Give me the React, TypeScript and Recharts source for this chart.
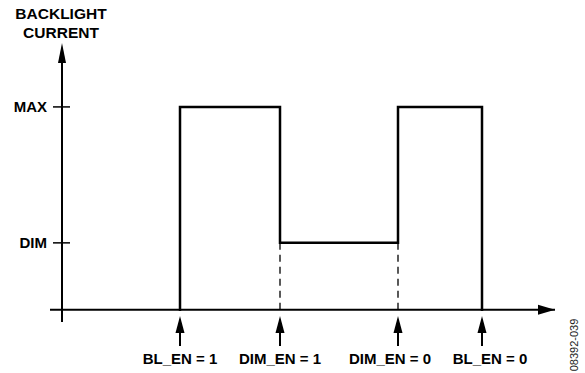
import {
  LineChart,
  Line,
  XAxis,
  YAxis,
  ReferenceLine,
  ReferenceDot,
} from "recharts";

// time units are arbitrary, current levels in % of MAX
const edgeTimes = [130, 230, 348, 432];
const levelsAfterEdge = [100, 33, 100, 0];
const edgeLabels = ["BL_EN = 1", "DIM_EN = 1", "DIM_EN = 0", "BL_EN = 0"];
const levelTicks = [33, 100];
const levelLabels = ["DIM", "MAX"];
const dashedEdges = [230, 348];

const X_DOMAIN: [number, number] = [0, 505];
const Y_DOMAIN: [number, number] = [-6, 131.5];
const Y_AXIS_AT = 12;

// the last two labels are nudged apart so they don't collide
const LABEL_NUDGE = [0, 0, -8, 8];

const FONT = "'Liberation Sans', Arial, sans-serif";

// build the step corners from the edges
const wave: { t: number; i: number }[] = [];
let prev = 0;
edgeTimes.forEach((t, k) => {
  wave.push({ t, i: prev });
  wave.push({ t, i: levelsAfterEdge[k] });
  prev = levelsAfterEdge[k];
});

const EdgeTick = (props: any) => {
  const { x, y, index } = props;
  return (
    <g>
      <line x1={x} x2={x} y1={y + 8} y2={y + 24} stroke="#000" strokeWidth={2} />
      <path d={`M${x},${y - 6} L${x - 4.5},${y + 11} L${x + 4.5},${y + 11} Z`} fill="#000" />
      <text
        x={x + LABEL_NUDGE[index]}
        y={y + 42}
        textAnchor="middle"
        fontFamily={FONT}
        fontWeight="bold"
        fontSize={15}
        fill="#000"
      >
        {edgeLabels[index]}
      </text>
    </g>
  );
};

const UpArrow = (props: any) => {
  const { cx, cy } = props;
  return <path d={`M${cx},${cy} L${cx - 4},${cy + 20} L${cx + 4},${cy + 20} Z`} fill="#000" />;
};

const RightArrow = (props: any) => {
  const { cx, cy } = props;
  return <path d={`M${cx},${cy} L${cx - 17},${cy - 5} L${cx - 17},${cy + 5} Z`} fill="#000" />;
};

export default function App() {
  return (
    <div style={{ position: "absolute", left: 0, top: 0, width: 585, height: 373, background: "#fff" }}>
      <div
        style={{
          position: "absolute",
          left: 11,
          top: 4,
          width: 100,
          textAlign: "center",
          fontFamily: FONT,
          fontWeight: "bold",
          fontSize: 15.5,
          lineHeight: "19px",
        }}
      >
        BACKLIGHT
        <br />
        CURRENT
      </div>
      <div
        style={{
          position: "absolute",
          left: 574,
          top: 345,
          transform: "translate(-50%, -50%) rotate(-90deg)",
          fontFamily: FONT,
          fontSize: 11,
          color: "#222",
          whiteSpace: "nowrap",
        }}
      >
        08392-039
      </div>
      <LineChart
        width={585}
        height={373}
        data={wave}
        margin={{ top: 43, right: 30, bottom: 0, left: 0 }}
      >
        <XAxis
          dataKey="t"
          type="number"
          domain={X_DOMAIN}
          ticks={edgeTimes}
          axisLine={false}
          tickLine={false}
          tickSize={0}
          tickMargin={0}
          height={51}
          tick={<EdgeTick />}
          interval={0}
        />
        <YAxis
          type="number"
          domain={Y_DOMAIN}
          ticks={levelTicks}
          tickFormatter={(v) => levelLabels[levelTicks.indexOf(v)]}
          axisLine={false}
          tickLine={false}
          tickSize={0}
          tickMargin={3}
          width={50}
          tick={{ fill: "#000", fontFamily: FONT, fontWeight: "bold", fontSize: 15 }}
        />
        <ReferenceLine y={0} stroke="#000" strokeWidth={2} />
        <ReferenceLine
          segment={[
            { x: Y_AXIS_AT, y: Y_DOMAIN[0] },
            { x: Y_AXIS_AT, y: 125 },
          ]}
          stroke="#000"
          strokeWidth={2}
        />
        {levelTicks.map((v) => (
          <ReferenceLine
            key={v}
            segment={[
              { x: 3, y: v },
              { x: 20, y: v },
            ]}
            stroke="#000"
            strokeWidth={1.5}
          />
        ))}
        {dashedEdges.map((t) => (
          <ReferenceLine
            key={t}
            segment={[
              { x: t, y: 0 },
              { x: t, y: 33 },
            ]}
            stroke="#000"
            strokeOpacity={1}
            strokeWidth={1.3}
            strokeDasharray="7 5"
          />
        ))}
        <ReferenceDot x={Y_AXIS_AT} y={Y_DOMAIN[1]} shape={<UpArrow />} />
        <ReferenceDot x={X_DOMAIN[1]} y={0} shape={<RightArrow />} />
        <Line
          type="linear"
          dataKey="i"
          stroke="#000"
          strokeWidth={2.5}
          dot={false}
          isAnimationActive={false}
          strokeLinejoin="miter"
          strokeLinecap="square"
        />
      </LineChart>
    </div>
  );
}
